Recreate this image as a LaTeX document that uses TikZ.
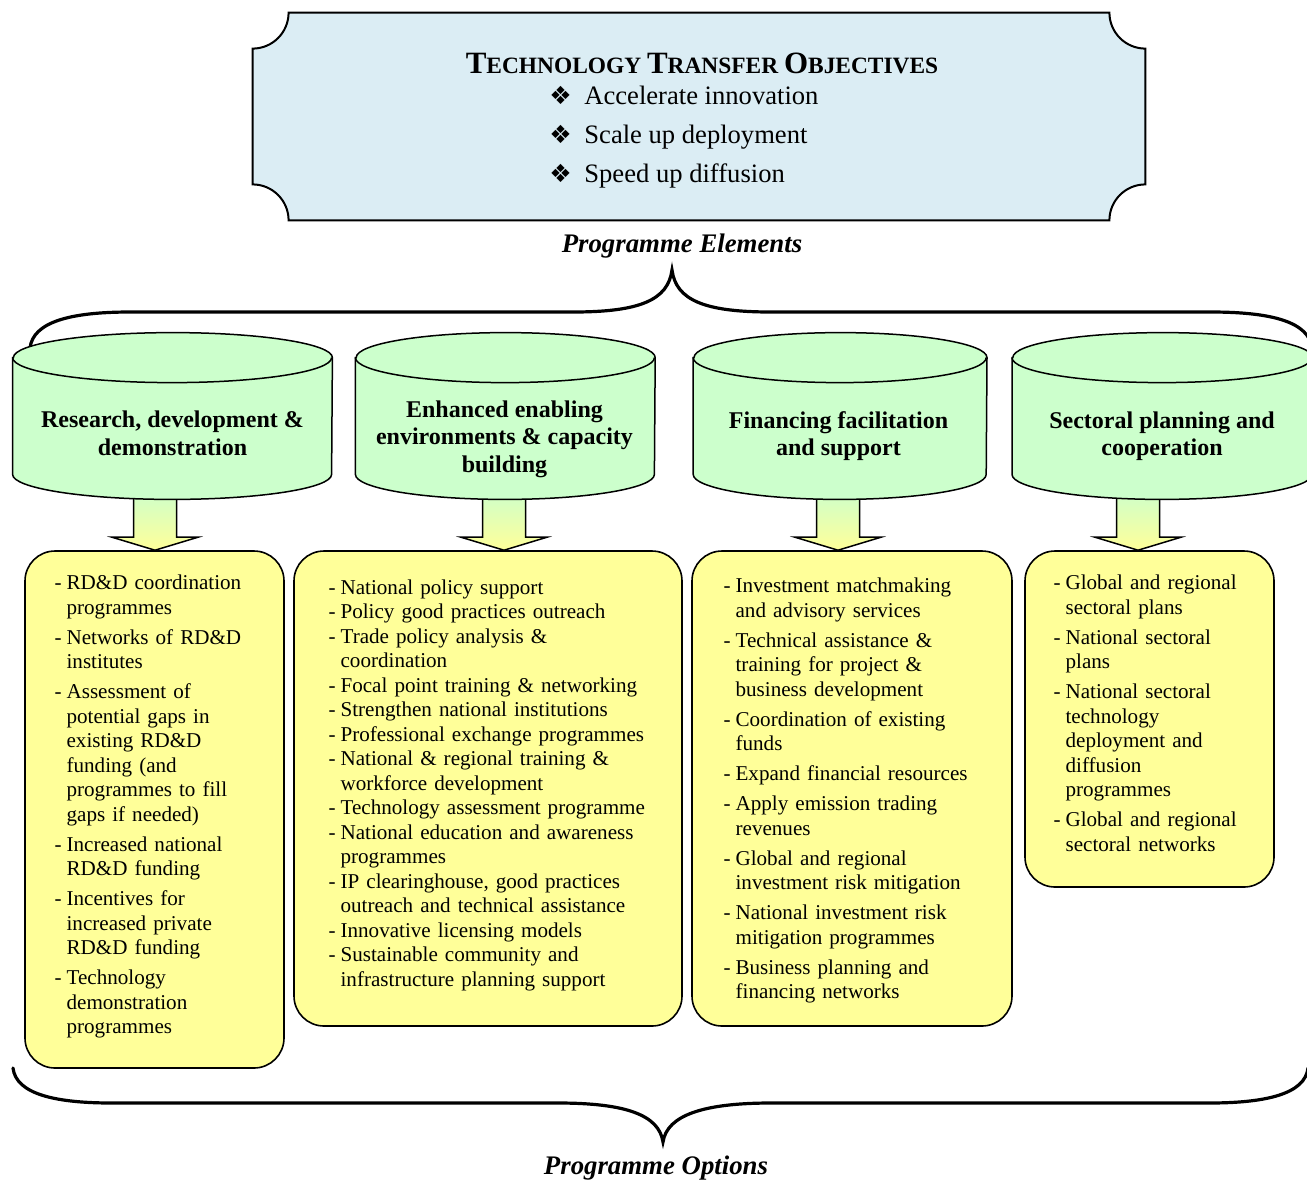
\documentclass[tikz,border=0pt]{standalone}
\usepackage{fontspec}
\setmainfont{Liberation Serif}
\newfontfamily\dingfont{DejaVu Sans}
\usepackage{tikz}
\usetikzlibrary{positioning,calc,backgrounds}
\definecolor{PlaqueBlue}{RGB}{219,237,244}
\definecolor{DrumGreen}{RGB}{204,255,204}
\definecolor{OptYellow}{RGB}{255,255,153}

\newcommand{\capinit}[1]{{\fontsize{15.5}{16}\selectfont #1}}
\newcommand{\opt}[1]{\par\noindent\hangindent=6pt\hangafter=1\strut\makebox[6pt][l]{-}{\let\\\newline #1}\par}

\begin{document}
\begin{tikzpicture}[x=0.5pt, y=-0.5pt,
    plaque/.style={draw=black, line width=1pt, fill=PlaqueBlue},
    drum/.style={rectangle, draw=none, inner sep=0pt, minimum height=83pt},
    drumline/.style={draw=black, line width=0.75pt, fill=DrumGreen},
    head/.style={align=center, inner sep=0pt, font=\fontsize{12}{13.75}\selectfont\bfseries},
    optbox/.style={rectangle, rounded corners=15pt, draw=black, line width=0.8pt, fill=OptYellow, inner sep=0pt},
    optlist/.style={anchor=north west, inner sep=0pt, text width=175pt, align=left,
        font=\fontsize{10.55}{12.25}\selectfont, execute at begin node={\setlength{\parskip}{#1}}},
    optlist/.default=2.75pt,
    pointer/.style={draw=black, line width=0.75pt, top color=DrumGreen, bottom color=OptYellow},
    brace/.style={line width=1.6pt, line cap=round},
    goal/.style={anchor=base west, inner sep=0pt, font=\fontsize{13.3}{16}\selectfont},
    tag/.style={anchor=base, inner sep=0pt, font=\fontsize{13.4}{16}\selectfont\bfseries\itshape},
]
\useasboundingbox (0,0) rectangle (1307,1180);

% objectives plaque
\node[draw=none, inner sep=0pt, minimum width=446pt, minimum height=103.5pt] (obj) at (699,116.5) {};
\draw[plaque] ($(obj.north west)+(36,0)$) -- ($(obj.north east)+(-36,0)$)
    arc[start angle=180, end angle=270, radius=18pt] -- ($(obj.south east)+(0,-36)$)
    arc[start angle=90, end angle=180, radius=18pt] -- ($(obj.south west)+(36,0)$)
    arc[start angle=0, end angle=90, radius=18pt] -- ($(obj.north west)+(0,36)$)
    arc[start angle=270, end angle=360, radius=18pt] -- cycle;
\node[anchor=base, inner sep=0pt, font=\fontsize{11.7}{14}\selectfont\bfseries] (objtitle) at (702,73)
    {\capinit{T}ECHNOLOGY \capinit{T}RANSFER \capinit{O}BJECTIVES};
\foreach \g [count=\i] in {Accelerate innovation, Scale up deployment, Speed up diffusion}
    \node[goal] (goal\i) at (549,{65+39*\i}) {\makebox[17.5pt][l]{\fontsize{12.5}{14}\dingfont ❖}\g};

\node[tag] (elements) at (682,252) {Programme Elements};
\draw[brace] (30,348) .. controls (33,322) and (70,312) .. (130,312) -- (573,312)
    .. controls (640,312) and (668,300) .. (672,270)
    .. controls (676,300) and (704,312) .. (771,312) -- (1211,312)
    .. controls (1272,312) and (1309,322) .. (1312,348);

% programme elements
\node[drum, minimum width=159.5pt] (rdd) at (172.5,416) {};
\node[drum, minimum width=149.5pt, right=11.5pt of rdd] (env) {};
\node[drum, minimum width=146.5pt, right=19pt of env] (fin) {};
\node[drum, minimum width=150pt, right=12.5pt of fin] (sec) {};
\foreach \cyl/\rx in {rdd/79.75, env/74.75, fin/73.25, sec/75}{
    \draw[drumline] ($(\cyl.north west)+(0,25)$) -- ($(\cyl.south west)+(0,-25)$)
        arc[start angle=180, end angle=360, x radius=\rx pt, y radius=12.5pt]
        -- ($(\cyl.north east)+(0,25)$)
        arc[start angle=0, end angle=180, x radius=\rx pt, y radius=12.5pt] -- cycle;
    \draw[line width=0.75pt] ($(\cyl.north west)+(0,25)$)
        arc[start angle=180, end angle=360, x radius=\rx pt, y radius=12.5pt];
}
\node[head] (rddname) at (172.5,433.5) {Research, development \&\\demonstration};
\node[head] (envname) at (504.5,439) {Enhanced enabling\\environments \& capacity\\building};
\node[head] (finname) at (838.5,436) {Financing facilitation\\and support};
\node[head] (secname) at (1162,436) {Sectoral planning and\\cooperation};

% programme options
\node[optbox, minimum width=129.5pt, minimum height=258.5pt] (rddopt) at (154.5,809.5) {};
\node[optbox, minimum width=194pt, minimum height=237.5pt] (envopt) at (488,788.5) {};
\node[optbox, minimum width=160pt, minimum height=237.5pt] (finopt) at (852,788.5) {};
\node[optbox, minimum width=124.5pt, minimum height=168pt] (secopt) at (1149.5,719) {};

\node[optlist] (rddlist) at ($(rddopt.north west)+(30,9)$) {%
    \opt{RD\&D coordination\\programmes}
    \opt{Networks of RD\&D\\institutes}
    \opt{Assessment of\\potential gaps in\\existing RD\&D\\funding (and\\programmes to fill\\gaps if needed)}
    \opt{Increased national\\RD\&D funding}
    \opt{Incentives for\\increased private\\RD\&D funding}
    \opt{Technology\\demonstration\\programmes}};
\node[optlist=0pt] (envlist) at ($(envopt.north west)+(35,19)$) {%
    \opt{National policy support}
    \opt{Policy good practices outreach}
    \opt{Trade policy analysis \&\\coordination}
    \opt{Focal point training \& networking}
    \opt{Strengthen national institutions}
    \opt{Professional exchange programmes}
    \opt{National \& regional training \&\\workforce development}
    \opt{Technology assessment programme}
    \opt{National education and awareness\\programmes}
    \opt{IP clearinghouse, good practices\\outreach and technical assistance}
    \opt{Innovative licensing models}
    \opt{Sustainable community and\\infrastructure planning support}};
\node[optlist] (finlist) at ($(finopt.north west)+(32,12)$) {%
    \opt{Investment matchmaking\\and advisory services}
    \opt{Technical assistance \&\\training for project \&\\business development}
    \opt{Coordination of existing\\funds}
    \opt{Expand financial resources}
    \opt{Apply emission trading\\revenues}
    \opt{Global and regional\\investment risk mitigation}
    \opt{National investment risk\\mitigation programmes}
    \opt{Business planning and\\financing networks}};
\node[optlist] (seclist) at ($(secopt.north west)+(29,9)$) {%
    \opt{Global and regional\\sectoral plans}
    \opt{National sectoral\\plans}
    \opt{National sectoral\\technology\\deployment and\\diffusion\\programmes}
    \opt{Global and regional\\sectoral networks}};

% block arrows from elements to options
\begin{pgfonlayer}{background}
\foreach \ax/\src/\dst in {155/rdd/rddopt, 504/env/envopt, 838/fin/finopt, 1138/sec/secopt}{
    \path (\ax,0 |- \src.south) coordinate (arrtop) (\ax,0 |- \dst.north) coordinate (arrtip);
    \draw[pointer] ($(arrtop)+(-21.5,-10)$) -- ($(arrtip)+(-21.5,-13)$) -- ($(arrtip)+(-43,-13)$)
        -- (arrtip) -- ($(arrtip)+(43,-13)$) -- ($(arrtip)+(21.5,-13)$) -- ($(arrtop)+(21.5,-10)$) -- cycle;
}
\end{pgfonlayer}

\draw[brace] (13,1068) .. controls (16,1094) and (55,1103) .. (112,1103) -- (558,1103)
    .. controls (626,1103) and (659,1115) .. (663,1142)
    .. controls (667,1115) and (704,1103) .. (771,1103) -- (1209,1103)
    .. controls (1266,1103) and (1305,1094) .. (1308,1068);
\node[tag] (options) at (656,1174) {Programme Options};
\end{tikzpicture}
\end{document}
